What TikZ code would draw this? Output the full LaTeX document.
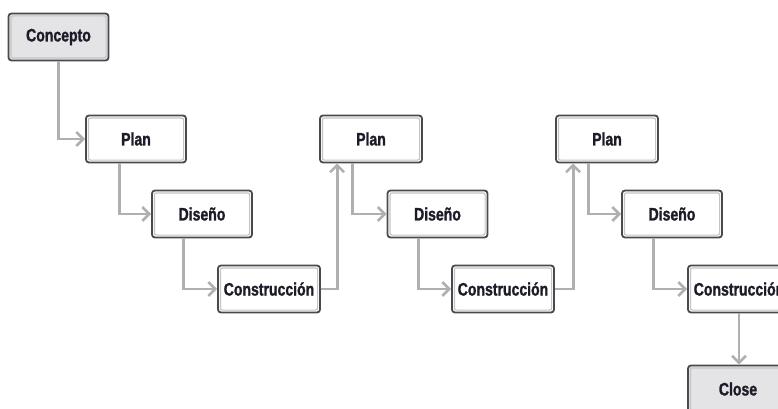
\documentclass[tikz,border=0pt]{standalone}
\usepackage{fontspec}
\newfontfamily\boxfont{Liberation Sans}[FakeStretch=0.78, BoldFeatures={FakeBold=1.3}]
\usetikzlibrary{arrows.meta}
\definecolor{boxedge}{HTML}{4A4A4C}
\definecolor{innerline}{HTML}{C4C4C6}
\definecolor{connc}{HTML}{B0B0B2}
\definecolor{greyfill}{HTML}{E4E4E6}
\definecolor{txt}{HTML}{1C1C28}
\tikzset{
  stage/.style={draw=boxedge, line width=1.8pt, rounded corners=3pt, fill=white,
    minimum width=100pt, minimum height=47pt, inner sep=0pt, text=txt,
    font=\boxfont\bfseries\fontsize{18}{20}\selectfont,
    path picture={\draw[innerline, line width=1.2pt, rounded corners=2pt]
      ([xshift=2.4pt,yshift=-2.4pt]path picture bounding box.north west) rectangle
      ([xshift=-2.4pt,yshift=2.4pt]path picture bounding box.south east);}},
  endstage/.style={stage, fill=greyfill},
  conn/.style={draw=connc, line width=2.8pt,
    -{Straight Barb[length=7pt,width=14pt,line width=2.6pt]}}
}
\begin{document}
\begin{tikzpicture}[x=1pt,y=-1pt]
\useasboundingbox (0,0) rectangle (778,409);
\clip (0,0) rectangle (778,409);
\node[endstage] (concepto) at (58.5,37) {Concepto};
\node[stage] (plan1) at (136,139) {Plan};
\node[stage] (dis1) at (202,214) {Diseño};
\node[stage, minimum width=102pt] (con1) at (269,289) {Construcción};
\node[stage, minimum width=102pt] (plan2) at (371,139) {Plan};
\node[stage] (dis2) at (437.5,214) {Diseño};
\node[stage, minimum width=102pt] (con2) at (503,289) {Construcción};
\node[stage, minimum width=102pt] (plan3) at (607,139) {Plan};
\node[stage] (dis3) at (672,214) {Diseño};
\node[stage, minimum width=102pt] (con3) at (739,289) {Construcción};
\node[endstage] (close) at (738,389) {Close};

\draw[conn] (concepto.south) |- (plan1.west);
\draw[conn] ([xshift=34pt]plan1.south west) |- (dis1.west);
\draw[conn] ([xshift=32pt]dis1.south west) |- (con1.west);
\draw[conn] (con1.east) -| ([xshift=18pt]plan2.south west);
\draw[conn] ([xshift=33pt]plan2.south west) |- (dis2.west);
\draw[conn] ([xshift=32pt]dis2.south west) |- (con2.west);
\draw[conn] (con2.east) -| ([xshift=18pt]plan3.south west);
\draw[conn] ([xshift=33pt]plan3.south west) |- (dis3.west);
\draw[conn] ([xshift=32pt]dis3.south west) |- (con3.west);
\draw[conn] (con3.south) -- (con3.south |- close.north);
\end{tikzpicture}
\end{document}
